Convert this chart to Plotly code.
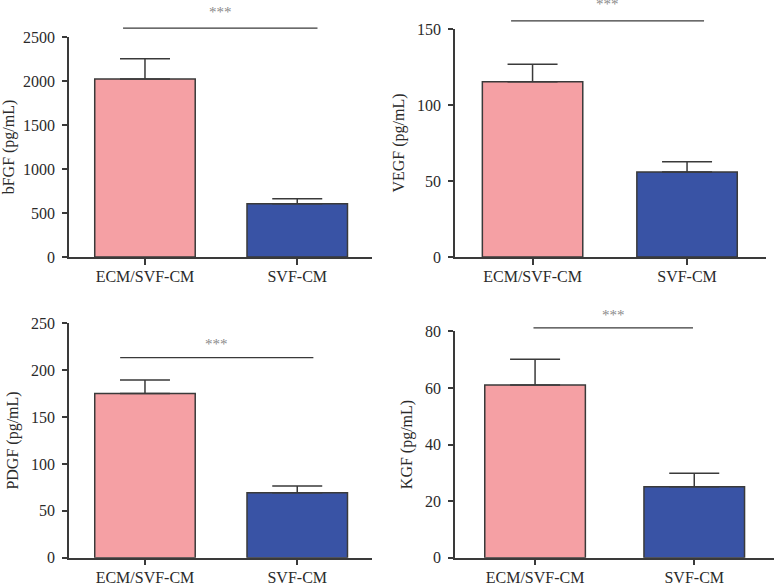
import plotly.graph_objects as go

# ---------------- data ----------------
categories = ["ECM/SVF-CM", "SVF-CM"]
panel_titles = ["bFGF (pg/mL)", "VEGF (pg/mL)", "PDGF (pg/mL)", "KGF (pg/mL)"]

bfgf_mean = [2023, 606]
bfgf_err = [230, 57]
vegf_mean = [115.3, 55.9]
vegf_err = [11.5, 6.8]
pdgf_mean = [175, 69.4]
pdgf_err = [14.6, 7.1]
kgf_mean = [61.0, 25.1]
kgf_err = [9.1, 4.7]

y_max = [2500, 150, 250, 80]
y_dtick = [500, 50, 50, 20]
significance = ["***", "***", "***", "***"]

means = [bfgf_mean, vegf_mean, pdgf_mean, kgf_mean]
errs = [bfgf_err, vegf_err, pdgf_err, kgf_err]

# ---------------- layout / style ----------------
W, H = 775, 584
colors = ["#F5A0A4", "#3953A5"]
edge = "#3a3a3a"
txt = "#2a2a2a"
FONT = "Liberation Serif, Times New Roman, serif"

# pixel boxes: (left, right, top, bottom)
boxes = [(69, 372, 37, 257), (455, 766, 29, 257),
         (69, 372, 323.3, 557.7), (455, 774, 331.3, 557.7)]
x_ranges = [(-0.499, 1.491), (-0.502, 1.511), (-0.499, 1.491), (-0.503, 1.501)]
bar_widths = [0.66, 0.65, 0.66, 0.632]
sig_lines = [(-0.144, 1.133, 2600), (-0.139, 1.110, 155.3),
             (-0.163, 1.106, 213.4), (-0.010, 0.992, 81.2)]
star_y = [2795, 167, 229, 86.1]

fig = go.Figure()
shapes = []
annotations = []

for i in range(4):
    sfx = "" if i == 0 else str(i + 1)
    xa, ya = "x" + sfx, "y" + sfx
    fig.add_trace(go.Bar(
        x=[0, 1], y=means[i], width=bar_widths[i],
        marker=dict(color=colors, line=dict(color=edge, width=1.5)),
        error_y=dict(type="data", array=errs[i], arrayminus=[0, 0], symmetric=False,
                     color=edge, thickness=1.5, width=25),
        xaxis=xa, yaxis=ya, showlegend=False, hoverinfo="y",
    ))
    l, r, t, b = boxes[i]
    xkey = "xaxis" + sfx
    ykey = "yaxis" + sfx
    fig.layout[xkey] = dict(
        domain=[l / W, r / W], range=list(x_ranges[i]), anchor=ya,
        tickvals=[0, 1], ticktext=categories, ticks="outside", ticklen=6,
        tickwidth=1.5, tickcolor=edge, showline=True, linecolor=edge, linewidth=1.5,
        showgrid=False, zeroline=False, fixedrange=True, automargin=False,
        ticklabelstandoff=-2,
        tickfont=dict(family=FONT, size=16, color=txt),
    )
    fig.layout[ykey] = dict(
        domain=[1 - b / H, 1 - t / H], range=[0, y_max[i]], anchor=xa,
        tick0=0, dtick=y_dtick[i], ticks="outside", ticklen=5, tickwidth=1.5,
        tickcolor=edge, showline=True, linecolor=edge, linewidth=1.5,
        showgrid=False, zeroline=False, fixedrange=True, ticklabelstandoff=4,
        automargin=False,
        tickfont=dict(family=FONT, size=16, color=txt),
        title=dict(text=panel_titles[i], standoff=8,
                   font=dict(family=FONT, size=16, color=txt)),
    )
    x0, x1, sy = sig_lines[i]
    frac = sy / y_max[i]
    shapes.append(dict(type="line", xref=xa, yref=ya + " domain",
                       x0=x0, x1=x1, y0=frac, y1=frac,
                       line=dict(color="#3a3a3a", width=1.3)))
    annotations.append(dict(x=(x0 + x1) / 2, y=star_y[i] / y_max[i], xref=xa,
                            yref=ya + " domain", text=significance[i], showarrow=False,
                            yanchor="middle", yshift=-1,
                            font=dict(family=FONT, size=15, color="#8a8a8a")))

fig.update_layout(
    width=W, height=H, margin=dict(l=0, r=0, t=0, b=0, autoexpand=False),
    paper_bgcolor="white", plot_bgcolor="white",
    shapes=shapes, annotations=annotations,
)

fig.write_html("out.html", config={"displayModeBar": False},
               post_script="document.body.style.margin='0';")
